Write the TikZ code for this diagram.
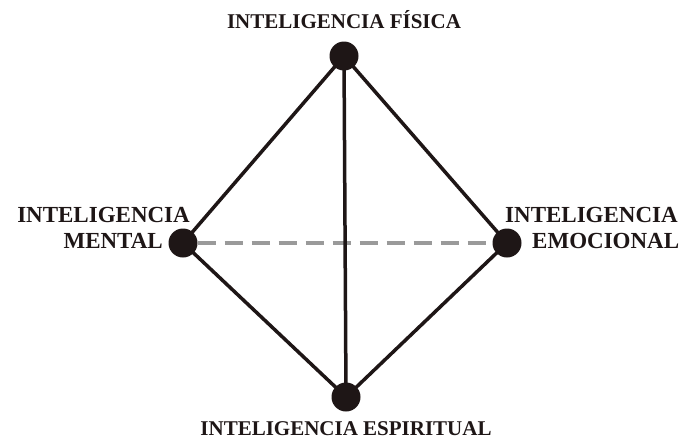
\documentclass[tikz,border=0pt]{standalone}
\usepackage{fontspec}
\setmainfont{Liberation Serif}
\usepackage{tikz}
\usetikzlibrary{positioning}
\definecolor{inkc}{HTML}{1E1616}
\definecolor{dashc}{HTML}{9A9A9A}
\tikzset{
  vert/.style={circle,fill=inkc,minimum size=29pt,inner sep=0pt},
  edge/.style={draw=inkc,line width=3.5pt},
  hidden/.style={draw=dashc,line width=3.5pt,dash pattern=on 18pt off 9pt},
  lab/.style={font=\fontsize{21}{24}\selectfont\bfseries,text=inkc,inner sep=0pt},
  slab/.style={font=\fontsize{23}{26}\selectfont\bfseries,text=inkc,inner sep=0pt},
}
\begin{document}
\begin{tikzpicture}[x=1pt,y=-1pt]
  \useasboundingbox (0,0) rectangle (679,439);
  \node[vert] (fis) at (344,56) {};
  \node[vert] (men) at (183,243) {};
  \node[vert] (emo) at (507,243) {};
  \node[vert] (esp) at (346,397) {};
  % aristas
  \draw[hidden] (men) -- (emo);
  \draw[edge] (fis.center) -- (men.center) -- (esp.center) -- (emo.center) -- cycle;
  \draw[edge] (fis.center) -- (esp.center);
  % etiquetas
  \node[lab,anchor=base] (tfis) at ([yshift=28pt]fis.center) {INTELIGENCIA FÍSICA};
  \node[lab,anchor=base] (tesp) at ([yshift=-38pt]esp.center) {INTELIGENCIA ESPIRITUAL};
  \node[slab,anchor=base east] (tmen) at ([xshift=7pt,yshift=21pt]men.center) {INTELIGENCIA};
  \node[slab,anchor=base east] (tmen2) at ([xshift=-20pt,yshift=-5pt]men.center) {MENTAL};
  \node[slab,anchor=base west] (temo) at ([xshift=-2pt,yshift=21pt]emo.center) {INTELIGENCIA};
  \node[slab,anchor=base west] (temo2) at ([xshift=25pt,yshift=-5pt]emo.center) {EMOCIONAL};
\end{tikzpicture}
\end{document}
